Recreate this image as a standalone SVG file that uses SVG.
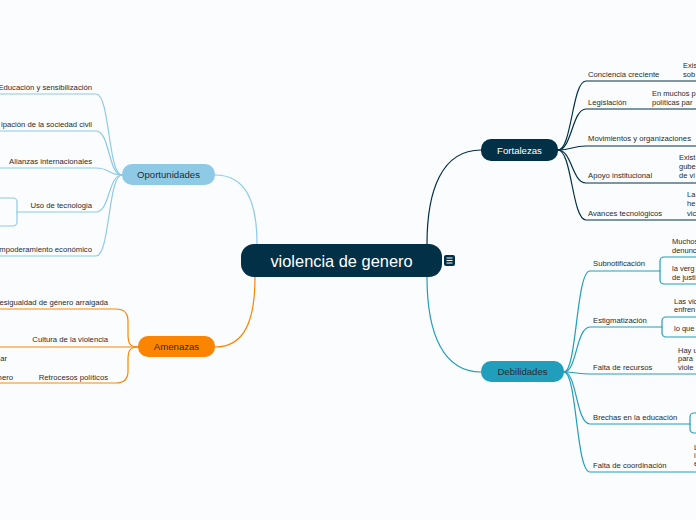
<svg xmlns="http://www.w3.org/2000/svg" width="696" height="520" viewBox="0 0 696 520">
<style>
text{font-family:"Liberation Sans",Arial,sans-serif;fill:#2b2b2b}
.c{font-size:7.7px}
.n{font-size:7.5px}
.lab{font-size:9.6px;text-anchor:middle}
.w{fill:#ffffff}
.e{text-anchor:end}
.l{fill:none;stroke-width:1.2;stroke-linecap:round}
.f{stroke:#023047}
.d{stroke:#219ebc}
.o{stroke:#8ecae6}
.a{stroke:#fb8500}
</style>
<rect x="0" y="0" width="696" height="520" fill="#fbfcfd"/>
<g id="connectors">
<path class="l o" d="M215,175 C245,175 257,200 257,244"/>
<path class="l a" d="M215,347 C245,347 255,320 255,277"/>
<path class="l f" d="M481,150 C442,150 427,190 427,244"/>
<path class="l d" d="M481,372 C444,372 427,335 427,277"/>
<path class="l o" d="M122,175 C108,175 110,94 96,94 L0,94"/>
<path class="l o" d="M122,175 C108,175 110,131 96,131 L0,131"/>
<path class="l o" d="M122,175 C108,175 110,168 96,168 L0,168"/>
<path class="l o" d="M122,175 C108,175 110,212 96,212 L17,212"/>
<path class="l o" d="M122,175 C108,175 110,256 96,256 L0,256"/>
<path class="l a" d="M138,347 C129,347 128,342 128,334 L128,321 Q128,309 116,309 L0,309"/>
<path class="l a" d="M138,347 L0,347"/>
<path class="l a" d="M138,347 C129,347 128,352 128,360 L128,371 Q128,383 116,383 L0,383"/>
<path class="l f" d="M558,150 C572,150 572,81 586,81 L696,81"/>
<path class="l f" d="M558,150 C572,150 572,109 586,109 L696,109"/>
<path class="l f" d="M558,150 C572,150 572,146 586,146 L696,146"/>
<path class="l f" d="M558,150 C572,150 572,183 586,183 L696,183"/>
<path class="l f" d="M558,150 C572,150 572,220 586,220 L696,220"/>
<path class="l d" d="M564,372 C577,372 576,271 590,271 L660,271"/>
<path class="l d" d="M564,372 C577,372 576,327 590,327 L662,327"/>
<path class="l d" d="M564,372 C577,372 576,374 590,374 L696,374"/>
<path class="l d" d="M564,372 C577,372 576,424 590,424 L690,424"/>
<path class="l d" d="M564,372 C577,372 576,472 590,472 L696,472"/>
</g>
<g id="central">
<rect x="241" y="244" width="201" height="33" rx="13" fill="#023047"/>
<text x="341.5" y="266.5" class="w" style="font-size:16.4px;text-anchor:middle">violencia de genero</text>
<rect x="444" y="255" width="11" height="11" rx="2" fill="#023047"/>
<path d="M446.5,258 H452.5 M446.5,260.5 H452.5 M446.5,263 H452.5" stroke="#ffffff" stroke-width="1"/>
</g>
<g id="fortalezas">
<rect x="481" y="139" width="77" height="22" rx="10" fill="#023047"/>
<text x="519.5" y="153.5" class="lab w">Fortalezas</text>
</g>
<g id="debilidades">
<rect x="481" y="361" width="83" height="21" rx="10" fill="#219ebc"/>
<text x="522.5" y="375" class="lab">Debilidades</text>
</g>
<g id="oportunidades">
<rect x="122" y="164" width="93" height="21" rx="10" fill="#8ecae6"/>
<text x="168.5" y="178" class="lab">Oportunidades</text>
</g>
<g id="amenazas">
<rect x="138" y="336" width="77" height="21" rx="10" fill="#fb8500"/>
<text x="176.5" y="350" class="lab">Amenazas</text>
</g>
<g id="op-educacion"><text x="92" y="89.5" class="c e">Educación y sensibilización</text></g>
<g id="op-participacion"><text x="92" y="126.5" class="c e">ipación de la sociedad civil</text></g>
<g id="op-alianzas"><text x="92" y="163.5" class="c e">Alianzas internacionales</text></g>
<g id="op-tecnologia"><text x="92" y="207.5" class="c e">Uso de tecnologia</text>
<rect x="-10" y="198" width="27" height="28" rx="4" fill="none" stroke="#8ecae6" stroke-width="1.2"/></g>
<g id="op-empoderamiento"><text x="92" y="251.5" class="c e">mpoderamiento económico</text></g>
<g id="am-desigualdad"><text x="108" y="304.5" class="c e">esigualdad de género arraigada</text></g>
<g id="am-cultura"><text x="108" y="342" class="c e">Cultura de la violencia</text>
<text x="7" y="361" class="c e">ar</text></g>
<g id="am-retrocesos"><text x="108" y="379.5" class="c e">Retrocesos políticos</text>
<text x="13" y="379.5" class="c e">nero</text></g>
<g id="fo-conciencia"><text x="588" y="76.5" class="c">Conciencia creciente</text>
<text x="683" y="67.5" class="n">Exis</text><text x="683" y="76.5" class="n">sob</text></g>
<g id="fo-legislacion"><text x="588" y="104.5" class="c">Legislación</text>
<text x="652" y="95.5" class="n">En muchos p</text><text x="652" y="104.5" class="n">políticas par</text></g>
<g id="fo-movimientos"><text x="588" y="141" class="c">Movimientos y organizaciones</text></g>
<g id="fo-apoyo"><text x="588" y="178" class="c">Apoyo institucional</text>
<text x="679" y="159.5" class="n">Exist</text><text x="679" y="168.5" class="n">gube</text><text x="679" y="177.5" class="n">de vi</text></g>
<g id="fo-avances"><text x="588" y="215.5" class="c">Avances tecnológicos</text>
<text x="687" y="196.5" class="n">La</text><text x="687" y="205.5" class="n">he</text><text x="687" y="215.5" class="n">vic</text></g>
<g id="de-subnotificacion"><text x="593" y="265.5" class="c">Subnotificación</text>
<text x="672" y="243.5" class="n">Muchos</text><text x="672" y="252.5" class="n">denunc</text>
<rect x="660" y="257" width="50" height="27" rx="4" fill="none" stroke="#219ebc" stroke-width="1.2"/>
<text x="672" y="271" class="n">la verg</text><text x="672" y="280" class="n">de justi</text></g>
<g id="de-estigmatizacion"><text x="593" y="322.5" class="c">Estigmatización</text>
<text x="674" y="303.5" class="n">Las vic</text><text x="674" y="312" class="n">enfren</text>
<rect x="662" y="317" width="50" height="20" rx="4" fill="none" stroke="#219ebc" stroke-width="1.2"/>
<text x="674" y="330.5" class="n">lo que</text></g>
<g id="de-recursos"><text x="593" y="370" class="c">Falta de recursos</text>
<text x="678" y="352.5" class="n">Hay u</text><text x="678" y="361" class="n">para</text><text x="678" y="369.5" class="n">viole</text></g>
<g id="de-brechas"><text x="593" y="419.5" class="c">Brechas en la educación</text>
<rect x="690" y="413" width="20" height="20" rx="4" fill="none" stroke="#219ebc" stroke-width="1.2"/></g>
<g id="de-coordinacion"><text x="593" y="467.5" class="c">Falta de coordinación</text>
<text x="694" y="449.5" class="n">L</text><text x="694" y="457.5" class="n">i</text><text x="694" y="465.5" class="n">e</text></g>
</svg>
